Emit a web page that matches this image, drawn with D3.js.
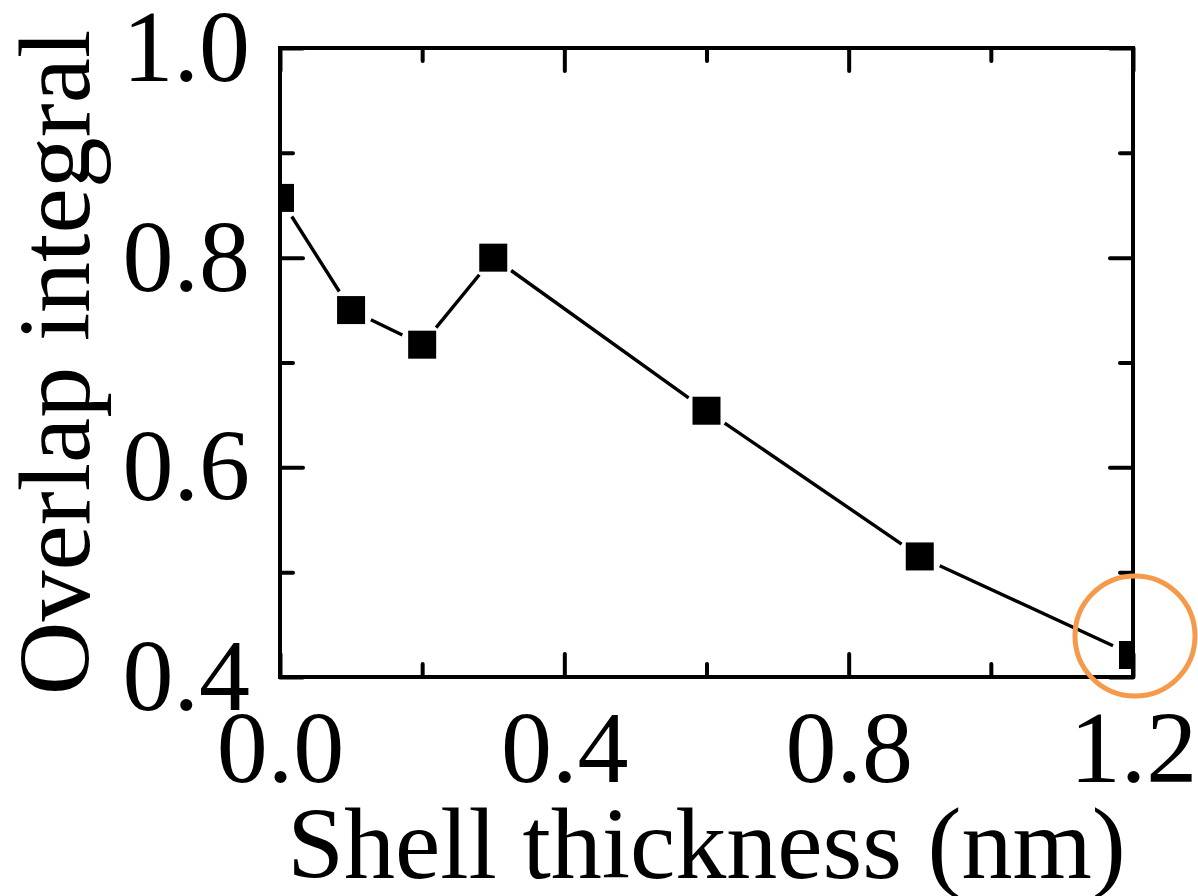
<!DOCTYPE html>
<html>
<head>
<meta charset="utf-8">
<script src="https://cdn.jsdelivr.net/npm/d3@7"></script>
<style>
  html, body { margin: 0; padding: 0; background: #fff; }
  svg { display: block; }
  .axis line { stroke: #000; stroke-width: 4px; stroke-linecap: round; }
  .axis path { display: none; }
</style>
</head>
<body>
<script>
// data
const thickness = [0, 0.1, 0.2, 0.3, 0.6, 0.9, 1.2];
const overlap = [0.857, 0.750, 0.717, 0.800, 0.654, 0.515, 0.421];

const xMajor = [0, 0.4, 0.8, 1.2];
const xMinor = [0.2, 0.6, 1.0];
const yMajor = [0.4, 0.6, 0.8, 1.0];
const yMinor = [0.5, 0.7, 0.9];

const xTitle = "Shell thickness (nm)";
const yTitle = "Overlap integral";

const FONT = "Liberation Serif, Times New Roman, Times, DejaVu Serif, serif";
const FS = 102;

const W = 1198, H = 896;
const m = { left: 280, top: 48, right: 65, bottom: 219 };
const w = W - m.left - m.right;
const h = H - m.top - m.bottom;

const svg = d3.select("body").append("svg")
  .attr("width", W).attr("height", H);

const x = d3.scaleLinear().domain([0, 1.2]).range([0, w]);
const y = d3.scaleLinear().domain([0.4, 1.0]).range([h, 0]);

const g = svg.append("g").attr("transform", `translate(${m.left},${m.top})`);

g.append("clipPath").attr("id", "plot-clip")
  .append("rect").attr("width", w).attr("height", h);

const fmt = d3.format(".1f");
const MAJ = 23, MIN = 13;

// labelled major ticks
const labelled = (sel) => sel.attr("font-family", FONT).attr("font-size", FS);
g.append("g").attr("class", "axis")
  .attr("transform", `translate(0,${h})`)
  .call(d3.axisBottom(x).tickValues(xMajor).tickFormat(fmt).tickSizeInner(-MAJ).tickSizeOuter(0).tickPadding(33))
  .call(labelled);
g.append("g").attr("class", "axis")
  .call(d3.axisLeft(y).tickValues(yMajor).tickFormat(fmt).tickSizeInner(-MAJ).tickSizeOuter(0).tickPadding(30))
  .call(labelled);

// mirrored / minor ticks (no labels)
const bare = (axis, vals, len) => axis.tickValues(vals).tickFormat("").tickSizeInner(-len).tickSizeOuter(0);
g.append("g").attr("class", "axis").attr("transform", `translate(0,${h})`).call(bare(d3.axisBottom(x), xMinor, MIN));
g.append("g").attr("class", "axis").call(bare(d3.axisTop(x), xMajor, MAJ));
g.append("g").attr("class", "axis").call(bare(d3.axisTop(x), xMinor, MIN));
g.append("g").attr("class", "axis").call(bare(d3.axisLeft(y), yMinor, MIN));
g.append("g").attr("class", "axis").attr("transform", `translate(${w},0)`).call(bare(d3.axisRight(y), yMajor, MAJ));
g.append("g").attr("class", "axis").attr("transform", `translate(${w},0)`).call(bare(d3.axisRight(y), yMinor, MIN));

// line segments with gaps around markers
const pts = thickness.map((t, i) => [x(t), y(overlap[i])]);
const gap = 22;
const plot = g.append("g").attr("clip-path", "url(#plot-clip)");
for (let i = 0; i < pts.length - 1; i++) {
  const [x0, y0] = pts[i], [x1, y1] = pts[i + 1];
  const len = Math.hypot(x1 - x0, y1 - y0);
  const ux = (x1 - x0) / len, uy = (y1 - y0) / len;
  plot.append("line")
    .attr("x1", x0 + ux * gap).attr("y1", y0 + uy * gap)
    .attr("x2", x1 - ux * gap).attr("y2", y1 - uy * gap)
    .attr("stroke", "#000").attr("stroke-width", 3.4);
}

const S = 28;
plot.selectAll("rect.mk")
  .data(pts)
  .enter().append("rect")
  .attr("class", "mk")
  .attr("x", d => d[0] - S / 2).attr("y", d => d[1] - S / 2)
  .attr("width", S).attr("height", S)
  .attr("fill", "#000");

// frame
g.append("rect")
  .attr("width", w).attr("height", h)
  .attr("fill", "none").attr("stroke", "#000").attr("stroke-width", 4);

// titles
svg.append("text")
  .attr("x", m.left + w / 2).attr("y", 878)
  .attr("text-anchor", "middle")
  .attr("font-family", FONT).attr("font-size", FS)
  .text(xTitle);

svg.append("text")
  .attr("transform", `translate(89,${m.top + h / 2}) rotate(-90)`)
  .attr("text-anchor", "middle")
  .attr("font-family", FONT).attr("font-size", FS)
  .text(yTitle);

// highlight circle on the last point
svg.append("circle")
  .attr("cx", m.left + x(1.2) + 2).attr("cy", m.top + y(0.4) - 41)
  .attr("r", 60)
  .attr("fill", "none")
  .attr("stroke", "#f5994a")
  .attr("stroke-width", 5);
</script>
</body>
</html>
